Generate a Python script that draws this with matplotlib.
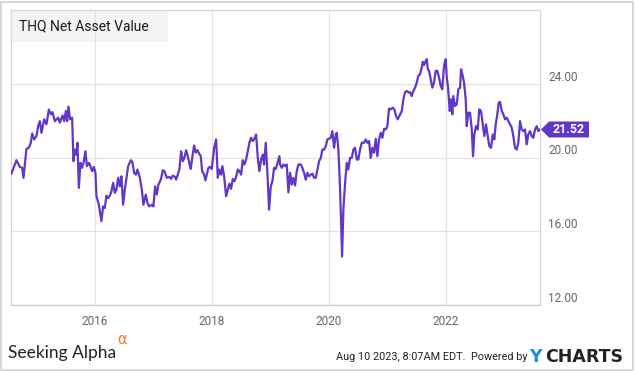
import matplotlib
matplotlib.use("Agg")
import matplotlib.pyplot as plt
from matplotlib.patches import Rectangle, Polygon

# THQ net asset value (decimal year, NAV)
years = [
    2014.578, 2014.663, 2014.721, 2014.761, 2014.783, 2014.834, 2014.875, 2014.909, 2014.932, 2014.966,
    2015.005, 2015.034, 2015.063, 2015.091, 2015.137, 2015.176, 2015.217, 2015.251, 2015.279, 2015.320,
    2015.376, 2015.405, 2015.450, 2015.479, 2015.508, 2015.530, 2015.552, 2015.581, 2015.615, 2015.638,
    2015.662, 2015.689, 2015.706, 2015.730, 2015.757, 2015.786, 2015.815, 2015.843, 2015.867, 2015.901,
    2015.928, 2015.957, 2015.986, 2016.014, 2016.031, 2016.072, 2016.116, 2016.145, 2016.174, 2016.202,
    2016.231, 2016.260, 2016.287, 2016.316, 2016.345, 2016.373, 2016.402, 2016.431, 2016.458, 2016.487,
    2016.516, 2016.544, 2016.573, 2016.619, 2016.646, 2016.675, 2016.704, 2016.732, 2016.773,
    2016.807, 2016.834, 2016.875, 2016.903, 2016.932, 2016.978, 2017.005, 2017.034, 2017.063, 2017.091,
    2017.132, 2017.166, 2017.193, 2017.234, 2017.279, 2017.308, 2017.337, 2017.376, 2017.393, 2017.422,
    2017.450, 2017.479, 2017.508, 2017.535, 2017.564, 2017.593, 2017.621, 2017.644, 2017.672, 2017.701,
    2017.730, 2017.757, 2017.786, 2017.815, 2017.838, 2017.872, 2017.894, 2017.918, 2017.945, 2017.974,
    2018.003, 2018.043, 2018.077, 2018.106, 2018.133, 2018.162, 2018.185, 2018.214, 2018.248, 2018.277,
    2018.304, 2018.333, 2018.362, 2018.390, 2018.419, 2018.448, 2018.475, 2018.504, 2018.533, 2018.561,
    2018.590, 2018.619, 2018.646, 2018.675, 2018.704, 2018.732, 2018.761, 2018.790, 2018.817, 2018.846,
    2018.875, 2018.897, 2018.926, 2018.954, 2018.983, 2019.012, 2019.039, 2019.068, 2019.097, 2019.125,
    2019.159, 2019.171, 2019.200, 2019.227, 2019.256, 2019.285, 2019.313, 2019.342, 2019.371, 2019.398,
    2019.427, 2019.456, 2019.484, 2019.525, 2019.552, 2019.581, 2019.610, 2019.638, 2019.667, 2019.696,
    2019.723, 2019.752, 2019.781, 2019.809, 2019.838, 2019.867, 2019.894, 2019.923, 2019.952, 2019.979,
    2020.009, 2020.038, 2020.065, 2020.094, 2020.123, 2020.140, 2020.168, 2020.197, 2020.231, 2020.253,
    2020.282, 2020.311, 2020.338, 2020.368, 2020.397, 2020.424, 2020.453, 2020.482, 2020.509, 2020.538,
    2020.568, 2020.607, 2020.636, 2020.663, 2020.692, 2020.721, 2020.749, 2020.778, 2020.807, 2020.834,
    2020.863, 2020.892, 2020.920, 2020.949, 2020.978, 2021.005, 2021.034, 2021.063, 2021.097, 2021.125,
    2021.154, 2021.183, 2021.210, 2021.251, 2021.279, 2021.308, 2021.337, 2021.364, 2021.393, 2021.422,
    2021.450, 2021.479, 2021.508, 2021.535, 2021.564, 2021.593, 2021.610, 2021.632, 2021.662, 2021.679,
    2021.696, 2021.718, 2021.747, 2021.774, 2021.803, 2021.832, 2021.860, 2021.889, 2021.918, 2021.945,
    2021.969, 2021.986, 2022.003, 2022.021, 2022.043, 2022.072, 2022.094, 2022.116, 2022.133, 2022.162,
    2022.191, 2022.219, 2022.248, 2022.265, 2022.287, 2022.316, 2022.345, 2022.362, 2022.390, 2022.419,
    2022.448, 2022.470, 2022.492, 2022.521, 2022.550, 2022.577, 2022.607, 2022.636, 2022.663, 2022.692,
    2022.721, 2022.749, 2022.778, 2022.807, 2022.834, 2022.858, 2022.885, 2022.909, 2022.932, 2022.961,
    2022.988, 2023.017, 2023.046, 2023.074, 2023.103, 2023.132, 2023.159, 2023.188, 2023.217, 2023.244,
    2023.274, 2023.303, 2023.330, 2023.359, 2023.388, 2023.415, 2023.444, 2023.474, 2023.501, 2023.530,
    2023.559, 2023.586, 2023.615,
]
nav = [
    19.13, 19.85, 19.49, 19.44, 18.90, 20.47, 20.53, 20.80, 21.30, 20.98,
    21.16, 21.70, 21.97, 21.34, 22.07, 21.80, 22.60, 22.34, 22.46, 21.97,
    22.16, 21.89, 22.28, 21.97, 22.52, 21.97, 22.76, 22.07, 22.16, 19.80,
    20.43, 20.16, 20.80, 18.35, 19.71, 19.44, 19.80, 20.34, 19.53, 19.71,
    19.53, 19.26, 19.49, 19.17, 17.90, 17.44, 16.55, 17.35, 17.26, 17.93,
    17.80, 17.93, 18.17, 18.62, 18.08, 18.26, 18.90, 18.44, 18.98, 17.44,
    18.26, 18.90, 19.53, 19.85, 19.75, 19.17, 19.07, 19.35, 18.90,
    18.26, 17.44, 17.99, 17.53, 17.35, 17.44, 17.35, 18.44, 17.99, 18.53,
    18.80, 19.31, 19.26, 18.90, 18.95, 18.84, 19.02, 18.95, 18.80, 19.07,
    19.38, 20.34, 19.80, 19.98, 20.40, 20.07, 19.67, 19.38, 20.07, 20.65,
    20.26, 20.40, 20.22, 20.07, 19.26, 19.07, 18.76, 19.07, 19.44, 19.49,
    19.38, 20.53, 20.98, 18.90, 19.35, 19.07, 19.53, 18.98, 17.90, 18.26,
    18.58, 18.30, 18.84, 18.71, 18.95, 19.35, 19.26, 19.07, 19.85, 19.62,
    19.89, 20.34, 20.80, 21.07, 20.89, 21.02, 21.25, 19.98, 19.26, 19.89,
    20.16, 19.62, 20.80, 19.17, 17.17, 18.44, 18.71, 19.44, 19.38, 19.67,
    20.07, 19.62, 19.44, 19.62, 19.53, 19.62, 18.11, 19.17, 18.53, 18.90,
    18.48, 19.26, 19.62, 19.62, 19.44, 19.17, 18.80, 19.17, 18.98, 19.07,
    19.13, 18.90, 18.90, 19.35, 19.80, 19.98, 20.43, 20.43, 20.61, 20.98,
    21.02, 21.07, 21.43, 20.53, 21.25, 21.34, 20.43, 18.26, 14.63, 17.17,
    18.62, 19.71, 19.35, 19.98, 19.98, 20.43, 20.53, 19.89, 19.89, 20.43,
    20.80, 20.80, 20.98, 20.80, 20.89, 19.98, 20.53, 20.26, 21.02, 20.07,
    20.98, 21.34, 21.07, 21.56, 21.52, 21.70, 22.65, 22.61, 22.70, 22.61,
    22.25, 22.07, 22.25, 22.52, 23.16, 23.55, 23.61, 23.52, 23.55, 23.33,
    23.61, 23.79, 24.07, 24.43, 24.52, 24.88, 25.19, 25.01, 25.24, 25.33,
    24.79, 24.70, 24.24, 23.79, 24.07, 24.70, 24.70, 24.34, 23.88, 23.70,
    24.79, 25.15, 25.33, 24.34, 23.79, 22.52, 23.16, 22.34, 23.33, 22.79,
    22.88, 23.70, 23.79, 24.79, 24.52, 24.07, 23.16, 21.70, 22.43, 22.43,
    21.52, 20.07, 21.25, 21.70, 21.52, 22.61, 22.52, 21.80, 21.16, 21.80,
    21.16, 20.61, 20.53, 21.25, 20.98, 21.80, 22.34, 22.98, 23.01, 22.52,
    22.34, 22.07, 22.16, 21.97, 21.80, 21.61, 21.16, 20.53, 20.43, 20.80,
    21.97, 21.52, 21.43, 21.52, 20.71, 21.25, 21.43, 21.16, 21.07, 21.52,
    21.70, 21.43, 21.52,
]
x_ticks = [2016, 2018, 2020, 2022]
y_ticks = [12, 16, 20, 24]
last_value = 21.52

purple = '#6236c6'
grid_c = '#e2e2e2'
text_c = '#666666'

plt.rcParams['font.family'] = ['Roboto', 'DejaVu Sans']

W, H = 635, 371
fig = plt.figure(figsize=(W / 100, H / 100), dpi=100)
fig.patch.set_facecolor('white')

# outer light frame
fig.patches.append(Rectangle((1 / W, 1 / H), (W - 3) / W, (H - 3) / H, transform=fig.transFigure,
                             fill=False, edgecolor='#d0d0d0', linewidth=1.2))

ax = fig.add_axes([11 / W, 1 - 305 / H, 529 / W, 295 / H])
ax.plot(years, nav, color=purple, linewidth=1.6, zorder=3, solid_joinstyle='round')

ax.set_xlim(2014.57, 2023.615)
ax.set_ylim(12, 28)
ax.set_xticks(x_ticks)
ax.set_xticklabels([str(t) for t in x_ticks])
ax.set_yticks(y_ticks)
ax.set_yticklabels([f'{t:.2f}' for t in y_ticks])
ax.yaxis.tick_right()
ax.tick_params(axis='both', length=0, labelcolor=text_c, labelsize=8.5)
ax.tick_params(axis='x', pad=7)
ax.tick_params(axis='y', pad=6)
for lbl in ax.get_yticklabels():
    lbl.set_va('bottom')
ax.grid(True, color=grid_c, linewidth=0.9, zorder=1)
ax.set_axisbelow(True)
for s in ax.spines.values():
    s.set_color('#d6d6d6')
    s.set_linewidth(0.9)
ax.spines['bottom'].set_color('#c8c8c8')

# title box in the top-left corner
ax.add_patch(Rectangle((0, 1 - 32 / 295), 157 / 529, 32 / 295, transform=ax.transAxes,
                       facecolor='#f4f4f4', edgecolor='none', zorder=0.5))
ax.text(8 / 529, 1 - 16 / 295, 'THQ Net Asset Value', transform=ax.transAxes,
        fontsize=10, color='#1a1a1a', va='center', ha='left', zorder=4)

# last value flag on the right axis
fy = ax.transData.transform((0, last_value))[1] / H
x0 = 541 / W
pts = [(x0, fy), (x0 + 8 / W, fy + 8 / H), (589 / W, fy + 8 / H),
       (589 / W, fy - 8 / H), (x0 + 8 / W, fy - 8 / H)]
fig.patches.append(Polygon(pts, closed=True, transform=fig.transFigure,
                           facecolor=purple, edgecolor='none'))
fig.text(569 / W, fy, f'{last_value:.2f}', color='white', fontsize=9, fontweight='bold',
         ha='center', va='center')

# footer
fig.text(8 / W, 1 - 353 / H, 'Seeking Alpha', fontsize=12.5, color='#222222',
         family=['Lato', 'DejaVu Sans'], va='center', ha='left')
fig.text(117 / W, 1 - 340 / H, '\u03b1', fontsize=10.5, color='#f47b20',
         family=['DejaVu Sans'], va='center', ha='left')
fig.text(527 / W, 1 - 357 / H, 'Aug 10 2023, 8:07AM EDT.  Powered by', fontsize=7.8,
         color='#222222', va='center', ha='right')
fig.text(529 / W, 1 - 357 / H, 'Y', fontsize=12.5, color='#1a8fe0', fontweight='bold',
         family=['DejaVu Sans'], va='center', ha='left')
fig.text(545 / W, 1 - 357 / H, 'CHARTS', fontsize=12.5, color='#222222', fontweight='bold',
         family=['DejaVu Sans'], va='center', ha='left')

fig.savefig('out.png', dpi=100)
